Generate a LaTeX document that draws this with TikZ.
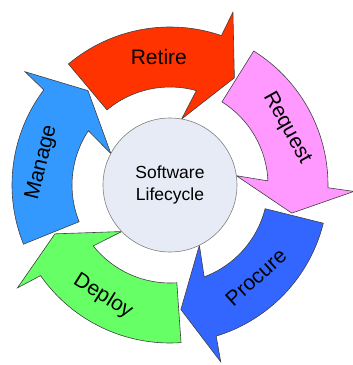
\documentclass[tikz,border=0pt]{standalone}
\usepackage{fontspec}
\setmainfont{Liberation Sans}
\definecolor{cRetire}{HTML}{FF3300}
\definecolor{cRequest}{HTML}{FF99FF}
\definecolor{cProcure}{HTML}{3366FF}
\definecolor{cDeploy}{HTML}{66FF66}
\definecolor{cManage}{HTML}{3399FF}
\definecolor{cCore}{HTML}{E6EBF5}
\newcommand\cycarrow[2]{%
  \path[band, fill=#2] ({#1}:158pt) arc[start angle={#1}, end angle={#1-59}, radius=158pt]
    -- ({#1-60}:184pt) -- ({#1-71}:125pt) -- ({#1-50}:67pt) -- ({#1-55.6}:98pt)
    arc[start angle={#1-55.6}, end angle={#1}, radius=98pt] -- cycle;}
\begin{document}
\begin{tikzpicture}[
  band/.style={draw=black!75, line width=0.6pt, line join=miter},
  lab/.style={font=\fontsize{21}{24}\selectfont, inner sep=0pt, text=black},
  core/.style={circle, draw=black!50, line width=0.6pt, fill=cCore, minimum size=134pt, inner sep=0pt,
    align=center, font=\fontsize{17.5}{21.5}\selectfont}]
\useasboundingbox (-170pt,-180pt) rectangle (183pt,185pt);
\cycarrow{130}{cRetire}
\cycarrow{58}{cRequest}
\cycarrow{-14}{cProcure}
\cycarrow{-86}{cDeploy}
\cycarrow{202}{cManage}
\node[core] (hub) at (0,0) {Software\\Lifecycle};
\node[lab, rotate=0] (retire) at (95:128pt) {Retire};
\node[lab, rotate=-61] (request) at (26:130pt) {Request};
\node[lab, rotate=42] (procure) at (-47:126pt) {Procure};
\node[lab, rotate=-32] (deploy) at (239:130pt) {Deploy};
\node[lab, rotate=76] (manage) at (170:130pt) {Manage};
\end{tikzpicture}
\end{document}
